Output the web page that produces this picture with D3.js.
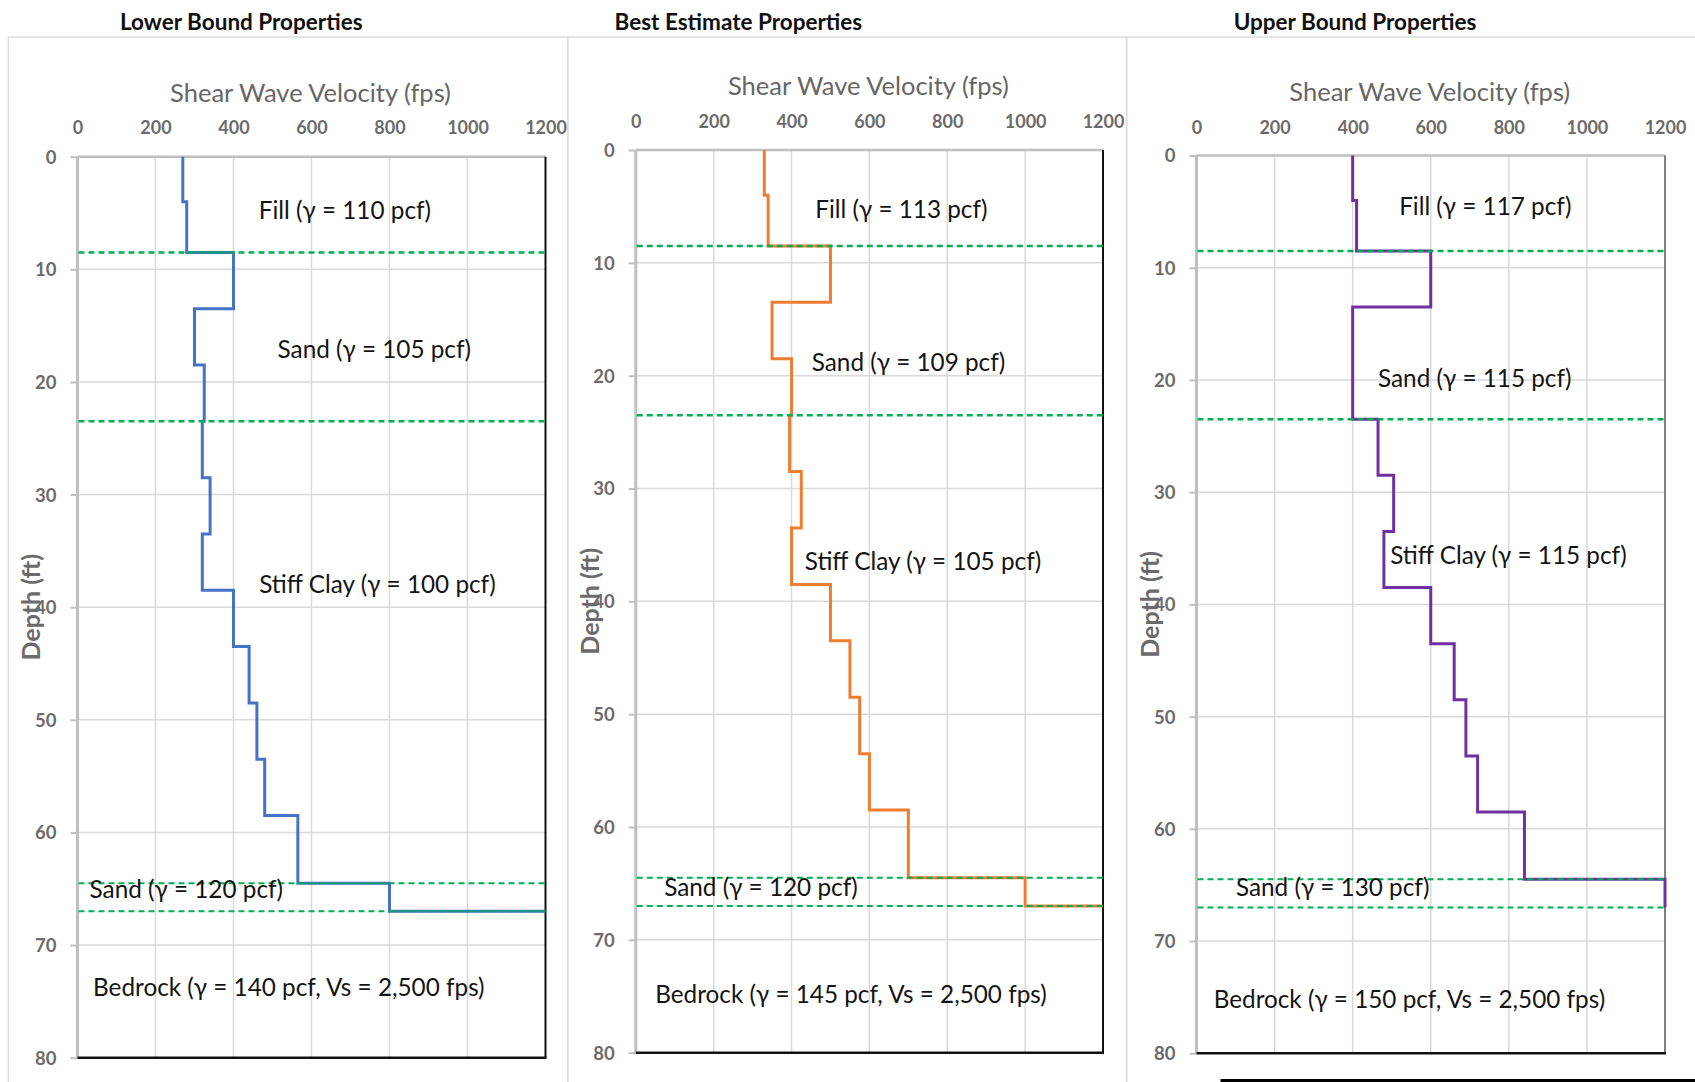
<!DOCTYPE html>
<html>
<head>
<meta charset="utf-8">
<script src="https://cdn.jsdelivr.net/npm/d3@7/dist/d3.min.js"></script>
<style>
  html, body { margin: 0; padding: 0; background: #ffffff; }
  svg { display: block; }
</style>
</head>
<body>
<svg id="chart" width="1695" height="1082"></svg>
<script>
// ---------------- DATA ----------------
const panelTitles = ["Lower Bound Properties", "Best Estimate Properties", "Upper Bound Properties"];
const xAxisTitle = "Shear Wave Velocity (fps)";
const yAxisTitle = "Depth (ft)";
const xTicks = [0, 200, 400, 600, 800, 1000, 1200];
const yTicks = [0, 10, 20, 30, 40, 50, 60, 70, 80];

// top depth (ft) of each layer of the step profile
const layerTops = [0, 4, 8.5, 13.5, 18.5, 23.5, 28.5, 33.5, 38.5, 43.5, 48.5, 53.5, 58.5, 64.5];
const profileBottom = 67;
const bedrockPlotVs = 1200; // bedrock (2,500 fps) drawn at the axis maximum

// shear wave velocity (fps) of each layer
const lowerVs = [270, 280, 400, 300, 325, 320, 340, 320, 400, 440, 460, 480, 565, 800];
const bestVs  = [330, 340, 500, 350, 400, 395, 425, 400, 500, 550, 575, 600, 700, 1000];
const upperVs = [400, 410, 600, 400, 400, 465, 505, 480, 600, 660, 690, 720, 840, 1200];

// stratigraphic boundaries (ft)
const boundaryDepths = [8.5, 23.5, 64.5, 67];

// layer annotation texts
const lowerLabels = ["Fill (γ = 110 pcf)", "Sand (γ = 105 pcf)", "Stiff Clay (γ = 100 pcf)", "Sand (γ = 120 pcf)", "Bedrock (γ = 140 pcf, Vs = 2,500 fps)"];
const bestLabels  = ["Fill (γ = 113 pcf)", "Sand (γ = 109 pcf)", "Stiff Clay (γ = 105 pcf)", "Sand (γ = 120 pcf)", "Bedrock (γ = 145 pcf, Vs = 2,500 fps)"];
const upperLabels = ["Fill (γ = 117 pcf)", "Sand (γ = 115 pcf)", "Stiff Clay (γ = 115 pcf)", "Sand (γ = 130 pcf)", "Bedrock (γ = 150 pcf, Vs = 2,500 fps)"];
// annotation anchors in data units (left edge in fps, baseline in ft)
const lowerLabelVs    = [465, 513, 466, 31, 40];
const lowerLabelDepth = [5.5, 17.9, 38.7, 65.8, 74.5];
const bestLabelVs     = [461, 452, 434, 73, 50];
const bestLabelDepth  = [6.0, 19.6, 37.2, 66.1, 75.6];
const upperLabelVs    = [519, 465, 496, 101, 44];
const upperLabelDepth = [5.3, 20.6, 36.4, 66.0, 76.0];

// ---------------- LAYOUT / STYLE ----------------
const FONT = "Lato, 'Open Sans', sans-serif";
const panels = [
  { title: panelTitles[0], vs: lowerVs, color: "#4472C4", labels: lowerLabels, lx: lowerLabelVs, ly: lowerLabelDepth,
    frame: [8.3, 567.7], left: 77.5, right: 545.5, top: 156.7, bottom: 1057.7, rightColor: "#111",
    titleX: 120, titleY: 30, axTitleY: 102, tickY: 134 },
  { title: panelTitles[1], vs: bestVs, color: "#ED7D31", labels: bestLabels, lx: bestLabelVs, ly: bestLabelDepth,
    frame: [567.7, 1126.6], left: 635.8, right: 1103, top: 150, bottom: 1052.7, rightColor: "#111",
    titleX: 614.5, titleY: 30, axTitleY: 95, tickY: 128 },
  { title: panelTitles[2], vs: upperVs, color: "#7030A0", labels: upperLabels, lx: upperLabelVs, ly: upperLabelDepth,
    frame: [1126.6, 1710], left: 1196.5, right: 1665, top: 155.5, bottom: 1053.3, rightColor: "#7f7f7f",
    titleX: 1233.7, titleY: 30, axTitleY: 101, tickY: 134 }
];

const svg = d3.select("#chart");

panels.forEach((p) => {
  const g = svg.append("g");
  const x = d3.scaleLinear().domain([0, 1200]).range([p.left, p.right]);
  const y = d3.scaleLinear().domain([0, 80]).range([p.top, p.bottom]);

  // panel frame
  g.append("rect")
    .attr("x", p.frame[0]).attr("y", 37)
    .attr("width", p.frame[1] - p.frame[0]).attr("height", 1100)
    .attr("fill", "none").attr("stroke", "#dcdcdc").attr("stroke-width", 1.5);

  // panel title
  g.append("text")
    .attr("x", p.titleX).attr("y", p.titleY)
    .attr("font-family", FONT).attr("font-weight", 700).attr("font-size", 22.5)
    .attr("fill", "#111").text(p.title);

  // gridlines
  g.append("g").selectAll("line").data(xTicks.slice(1, -1)).join("line")
    .attr("x1", d => x(d)).attr("x2", d => x(d)).attr("y1", p.top).attr("y2", p.bottom)
    .attr("stroke", "#d9d9d9").attr("stroke-width", 1.5);
  g.append("g").selectAll("line").data(yTicks.slice(1, -1)).join("line")
    .attr("x1", p.left).attr("x2", p.right).attr("y1", d => y(d)).attr("y2", d => y(d))
    .attr("stroke", "#d9d9d9").attr("stroke-width", 1.5);

  // axes (top & left) via d3 axes
  const xAxis = d3.axisTop(x).tickValues(xTicks).tickSize(0).tickPadding(0).tickFormat(d3.format("d"));
  const xa = g.append("g").attr("transform", `translate(0,${p.top})`).call(xAxis);
  xa.select(".domain").remove();
  xa.selectAll("text")
    .attr("y", p.tickY - p.top).attr("dy", 0)
    .attr("font-family", FONT).attr("font-weight", 700).attr("font-size", 18)
    .attr("fill", "#6b6b6b");

  const yAxis = d3.axisLeft(y).tickValues(yTicks).tickSize(7).tickPadding(14).tickFormat(d3.format("d"));
  const ya = g.append("g").attr("transform", `translate(${p.left},0)`).call(yAxis);
  ya.select(".domain").remove();
  ya.selectAll(".tick line").attr("stroke", "#bfbfbf").attr("stroke-width", 2);
  ya.selectAll("text")
    .attr("font-family", FONT).attr("font-weight", 700).attr("font-size", 18.5)
    .attr("fill", "#6b6b6b").attr("dy", "0.35em");

  // plot border lines
  g.append("line").attr("x1", p.left).attr("x2", p.right).attr("y1", p.top).attr("y2", p.top)
    .attr("stroke", "#bfbfbf").attr("stroke-width", 2.5);
  g.append("line").attr("x1", p.left).attr("x2", p.left).attr("y1", p.top).attr("y2", p.bottom)
    .attr("stroke", "#bfbfbf").attr("stroke-width", 3);
  g.append("line").attr("x1", p.right).attr("x2", p.right).attr("y1", p.top).attr("y2", p.bottom)
    .attr("stroke", p.rightColor).attr("stroke-width", 2);
  g.append("line").attr("x1", p.left).attr("x2", p.right + 1).attr("y1", p.bottom).attr("y2", p.bottom)
    .attr("stroke", "#111").attr("stroke-width", 2.5);

  // axis titles
  g.append("text")
    .attr("x", (p.left + p.right) / 2 - 1).attr("y", p.axTitleY)
    .attr("text-anchor", "middle")
    .attr("font-family", FONT).attr("font-size", 25.5).attr("fill", "#666")
    .text(xAxisTitle);
  g.append("text")
    .attr("transform", `translate(${p.left - 46},${y(40)}) rotate(-90)`)
    .attr("text-anchor", "middle").attr("dy", "0.35em")
    .attr("font-family", FONT).attr("font-weight", 700).attr("font-size", 25).attr("fill", "#6b6b6b")
    .text(yAxisTitle);

  // step profile
  const pts = [];
  p.vs.forEach((v, i) => {
    const bot = i < layerTops.length - 1 ? layerTops[i + 1] : profileBottom;
    pts.push([v, layerTops[i]]);
    pts.push([v, bot]);
  });
  pts.push([bedrockPlotVs, profileBottom]);
  const line = d3.line().x(d => x(d[0])).y(d => y(d[1]));
  g.append("path").attr("d", line(pts))
    .attr("fill", "none").attr("stroke", p.color).attr("stroke-width", 3)
    .attr("stroke-linejoin", "miter");

  // boundaries (green dashed)
  g.append("g").selectAll("line").data(boundaryDepths).join("line")
    .attr("x1", p.left + 1).attr("x2", p.right + 2)
    .attr("y1", d => y(d)).attr("y2", d => y(d))
    .attr("stroke", "#00B050").attr("stroke-width", (d, i) => i >= 2 ? 2 : 2.5)
    .attr("stroke-dasharray", "6,4");

  // layer annotations
  g.append("g").selectAll("text").data(p.labels).join("text")
    .attr("x", (d, i) => x(p.lx[i])).attr("y", (d, i) => y(p.ly[i]))
    .attr("font-family", FONT).attr("font-size", 24.3).attr("fill", "#141414")
    .text(d => d);
});

// partial box at bottom right
svg.append("path").attr("d", "M1222,1083 V1080.5 H1700")
  .attr("fill", "none").attr("stroke", "#000").attr("stroke-width", 3);
</script>
</body>
</html>
